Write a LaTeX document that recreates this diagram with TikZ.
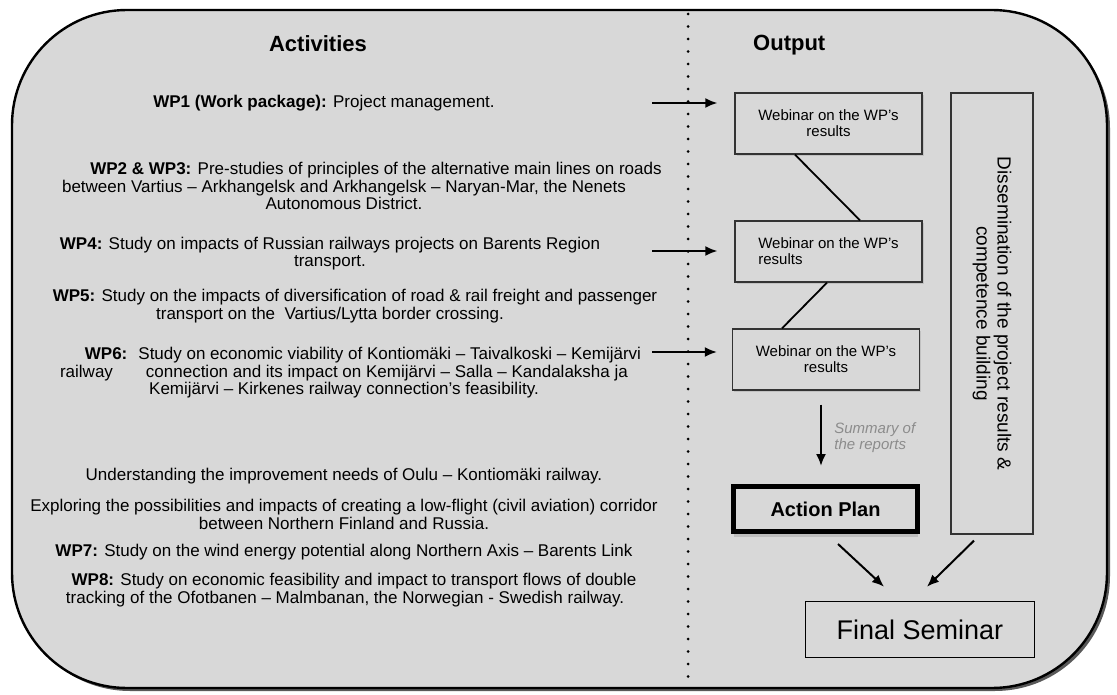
\documentclass[tikz,border=0pt]{standalone}
\usepackage{fontspec}
\setmainfont{Liberation Sans}
\usetikzlibrary{arrows.meta,shadows}
\definecolor{panelgray}{HTML}{D8D8D8}
\definecolor{boxline}{HTML}{333333}
\tikzset{
	wptext/.style={align=center, inner sep=0pt, font=\fontsize{17}{17.4}\selectfont},
	headtext/.style={inner sep=0pt, font=\fontsize{22}{24}\selectfont\bfseries},
	webbox/.style={draw=boxline, line width=1.3pt, fill=panelgray, minimum width=187pt, minimum height=61pt, inner sep=2pt, font=\fontsize{15}{16}\selectfont, drop shadow={shadow xshift=1.5pt, shadow yshift=-2pt, opacity=0.25}},
	feedarrow/.style={line width=2pt, -{Latex[length=12pt,width=10pt]}},
	linkline/.style={line width=1.8pt}
}

\begin{document}
\begin{tikzpicture}[x=1pt, y=-1pt]
			%%%%% START %%%%%
			\useasboundingbox (0,0) rectangle (1117,695);
			
			\fill[black!65, rounded corners=115pt] (15,13) rectangle (1110,691);
			\draw[line width=2.4pt, fill=panelgray, rounded corners=115pt] (12,10) rectangle (1107,688);
			
			\draw[line width=3pt, line cap=round, dash pattern=on 0pt off 12.5pt] (688,14) -- (688,684);
			
			\node[headtext] (act) at (318,44) {Activities};
			\node[headtext, anchor=west] (out) at (753,45) {Output};
			
			\node[wptext] (wp1) at (324,103) {\textbf{WP1 (Work package):} Project management.};
			\node[wptext] (wp23) at (344,186) {\hspace*{64pt}\textbf{WP2 \& WP3:} Pre-studies of principles of the alternative main lines on roads\\between Vartius – Arkhangelsk and Arkhangelsk – Naryan-Mar, the Nenets\\Autonomous District.};
			\node[wptext] (wp4) at (330,253.5) {\textbf{WP4:} Study on impacts of Russian railways projects on Barents Region\\transport.};
			\node[wptext] (wp5) at (330,306) {\hspace*{50pt}\textbf{WP5:} Study on the impacts of diversification of road \& rail freight and passenger\\transport on the~ Vartius/Lytta border crossing.};
			\node[wptext] (wp6) at (344,373) {\hspace*{38pt}\textbf{WP6:}~ Study on economic viability of Kontiomäki – Taivalkoski – Kemijärvi\\railway\hspace{33pt}connection and its impact on Kemijärvi – Salla – Kandalaksha ja\\Kemijärvi – Kirkenes railway connection’s feasibility.};
			\node[wptext] (oulu) at (344,476) {Understanding the improvement needs of Oulu – Kontiomäki railway.};
			\node[wptext] (flight) at (344,514.5) {Exploring the possibilities and impacts of creating a low-flight (civil aviation) corridor\\between Northern Finland and Russia.};
			\node[wptext] (wp7) at (344,552) {\textbf{WP7:} Study on the wind energy potential along Northern Axis – Barents Link};
			\node[wptext] (wp8) at (345,590) {\hspace*{18pt}\textbf{WP8:} Study on economic feasibility and impact to transport flows of double\\tracking of the Ofotbanen – Malmbanan, the Norwegian - Swedish railway.};
			
			\node[webbox, align=center] (w1) at (828.5,123.5) {Webinar on the WP’s\\results};
			\node[webbox, align=left] (w2) at (828.5,251.5) {Webinar on the WP’s\\results};
			\node[webbox, align=center] (w3) at (826,359.5) {Webinar on the WP’s\\results};
			
			\node[draw=boxline, line width=1.3pt, fill=panelgray, rotate=-90, minimum width=441pt, minimum height=82pt, align=center, font=\fontsize{19}{21}\selectfont] (diss) at (992,313.5) {Dissemination of the project results \&\\competence building};
			
			\node[draw=black, line width=5pt, fill=panelgray, minimum width=184pt, minimum height=45pt, font=\fontsize{20}{22}\selectfont\bfseries, drop shadow={shadow xshift=0pt, shadow yshift=-5pt, opacity=0.3}] (ap) at (825.5,509) {Action Plan};
			\node[draw=black, line width=1.6pt, minimum width=229pt, minimum height=56pt, font=\fontsize{27}{30}\selectfont] (fs) at (920,629.5) {Final Seminar};
			
			\coordinate (in1) at (652,103);
			\coordinate (in2) at (652,251);
			\coordinate (in3) at (652,352);
			\draw[feedarrow, shorten >=17pt] (in1) -- (in1 -| w1.west);
			\draw[feedarrow, shorten >=17pt] (in2) -- (in2 -| w2.west);
			\draw[feedarrow, shorten >=15pt] (in3) -- (in3 -| w3.west);
			
			\draw[linkline] ([xshift=-33.5pt]w1.south) -- ([xshift=31.5pt]w2.north);
			\draw[linkline] ([xshift=-1.5pt]w2.south) -- ([xshift=-44pt]w3.north);
			
			\draw[feedarrow, shorten <=14pt, shorten >=18pt] ([xshift=-5pt]w3.south) -- ([xshift=-5pt]w3.south |- ap.north) node[midway, anchor=west, xshift=9pt, align=left, text=black!45, font=\fontsize{15}{16}\selectfont\itshape] (sumnote) {Summary of\\the reports};
			
			\draw[feedarrow] ([xshift=12.5pt,yshift=-10pt]ap.south) -- ([xshift=-36pt,yshift=14pt]fs.north);
			\draw[feedarrow] ([xshift=-18pt,yshift=-6pt]diss.east) -- ([xshift=7pt,yshift=14pt]fs.north);
			
			%%%%% END %%%%%
\end{tikzpicture}
\end{document}
